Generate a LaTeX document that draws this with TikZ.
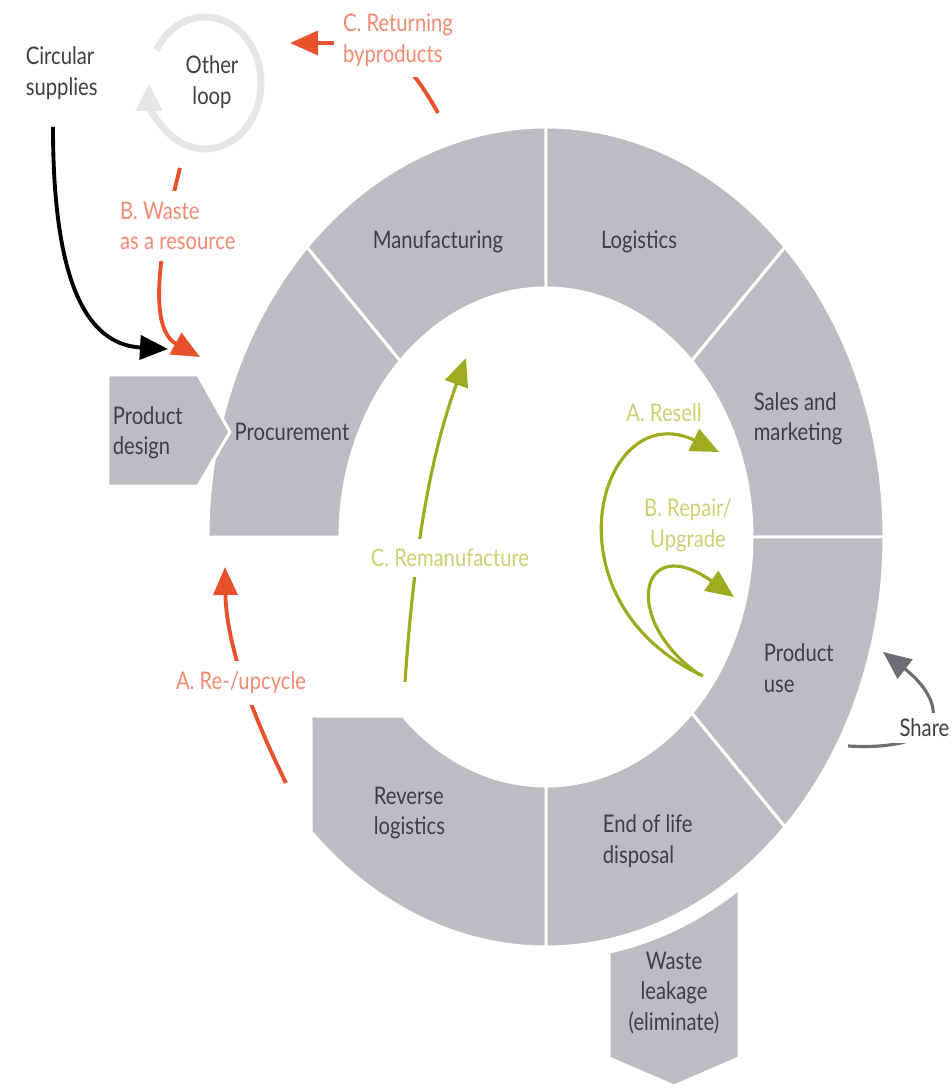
\documentclass[tikz,border=0pt]{standalone}
\usepackage{fontspec}
\setmainfont{Lato}
\usetikzlibrary{arrows.meta}

\definecolor{seggray}{RGB}{188,189,192}
\definecolor{darktext}{RGB}{62,62,68}
\definecolor{loopred}{RGB}{233,81,45}
\definecolor{redtext}{RGB}{240,138,112}
\definecolor{loopgreen}{RGB}{157,172,30}
\definecolor{greentext}{RGB}{204,208,112}
\definecolor{loopgray}{RGB}{229,230,231}
\definecolor{sharegray}{RGB}{110,110,114}

\begin{document}
\begin{tikzpicture}[x=0.02cm, y=0.02cm,
        seg/.style={fill=seggray, draw=white, line width=1.7pt},
        main node/.style={text=darktext, align=left, inner sep=2pt},
        flow node/.style={fill=white, align=left, inner sep=5pt},
        flow tip/.style={-{Triangle[length=0.56cm, width=0.48cm]}},
        red line/.style={flow tip, draw=loopred, line width=2.2pt},
        green line/.style={flow tip, draw=loopgreen, line width=1.8pt}]
        \tikzstyle{every node}=[font=\fontsize{11.5}{14.5}\selectfont, yscale=1.2]

          \useasboundingbox (-546,-551) rectangle (406,537);

          \foreach \a/\b in {135/180, 90/135, 45/90, 0/45, -45/0, -90/-45}
            \path[seg] (\a:338 and 410) arc[start angle=\a, end angle=\b, x radius=338, y radius=410]
              -- (\b:206 and 249) arc[start angle=\b, end angle=\a, x radius=206, y radius=249] -- cycle;
          \path[seg] (-90:338 and 410) arc[start angle=-90, end angle=-134, x radius=338, y radius=410]
            -- (-235,-179) -- (-134:206 and 249) arc[start angle=-134, end angle=-90, x radius=206, y radius=249] -- cycle;
          \path[seg] (-438,162) -- (-348,162) -- (-316,105) -- (-348,51) -- (-438,51) -- cycle;
          \path[seg] (-56.5:350 and 422) arc[start angle=-56.5, end angle=-79.6, x radius=350, y radius=422]
            -- (63,-521) -- (128,-549) -- (193,-521) -- cycle;

          \coordinate (loop) at (-341,454);
          \draw[loopgray, line width=4pt, -{Triangle[length=0.56cm, width=0.5cm]}]
            (loop) ++(150:56 and 66) arc[start angle=150, end angle=-180, x radius=56, y radius=66];

          \coordinate (1a) at (-493,410);
          \coordinate (1b) at (-378,188);
          \coordinate (3a) at (-108,424);
          \coordinate (3b) at (-256,494);
          \coordinate (4a) at (-366,369);
          \coordinate (4b) at (-346,180);
          \coordinate (5a) at (-260,-246);
          \coordinate (5b) at (-321,-30);
          \coordinate (6a) at (-141,-145);
          \coordinate (6b) at (-80,179);
          \coordinate (7a) at (157,-139);
          \coordinate (7b) at (173,85);
          \coordinate (8a) at (154,-138);
          \coordinate (8b) at (188,-60);
          \coordinate (9a) at (302,-209);
          \coordinate (9b) at (337,-115);

          \draw[black, line width=2.2pt, flow tip] (1a) .. controls (-493,237) and (-451,192) .. (1b);
          \draw[red line] (3a) .. controls (-146,492) and (-166,494) .. (3b);
          \draw[red line] (4a) .. controls (-400,237) and (-386,202) .. (4b);
          \draw[red line] (5a) .. controls (-306,-153) and (-320,-93) .. (5b);
          \draw[green line] (6a) .. controls (-134,-43) and (-121,67) .. (6b);
          \draw[green line] (7a) .. controls (-6,-63) and (54,142) .. (7b);
          \draw[green line] (8a) .. controls (74,-83) and (94,7) .. (8b);
          \draw[sharegray, line width=1.8pt, flow tip] (9a) .. controls (410,-215) and (399,-163) .. (9b);

          \node[main node, anchor=west] (1) at (-524,464) {Circular\\supplies};
          \node[main node, align=center] (2) at (-334,455) {Other\\loop};
          \node[flow node, text=redtext, anchor=west] (3) at (-212,497) {C. Returning\\byproducts};
          \node[flow node, text=redtext, anchor=west] (4) at (-435,311) {B. Waste\\as a resource};
          \node[flow node, text=redtext] (5) at (-305,-146) {A. Re-/upcycle};
          \node[flow node, text=greentext] (6) at (-96,-21) {C. Remanufacture};
          \node[main node, text=greentext] (7) at (118,124) {A. Resell};
          \node[main node, text=greentext, align=center] (8) at (142,12) {B. Repair/\\Upgrade};
          \node[flow node, text=darktext, anchor=west, inner sep=3pt] (9) at (348,-191) {Share};

          \node[main node] (10) at (-108,295) {Manufacturing};
          \node[main node] (11) at (93,295) {Logistics};
          \node[main node, anchor=west] (12) at (204,118) {Sales and\\marketing};
          \node[main node, anchor=west] (13) at (214,-131) {Product\\use};
          \node[main node, anchor=west] (14) at (53,-304) {End of life\\disposal};
          \node[main node, anchor=west] (15) at (-176,-276) {Reverse\\logistics};
          \node[main node] (16) at (-254,105) {Procurement};
          \node[main node, anchor=west] (17) at (-437,104) {Product\\design};
          \node[main node, align=center] (18) at (128,-456) {Waste\\leakage\\(eliminate)};

        \end{tikzpicture}
\end{document}
